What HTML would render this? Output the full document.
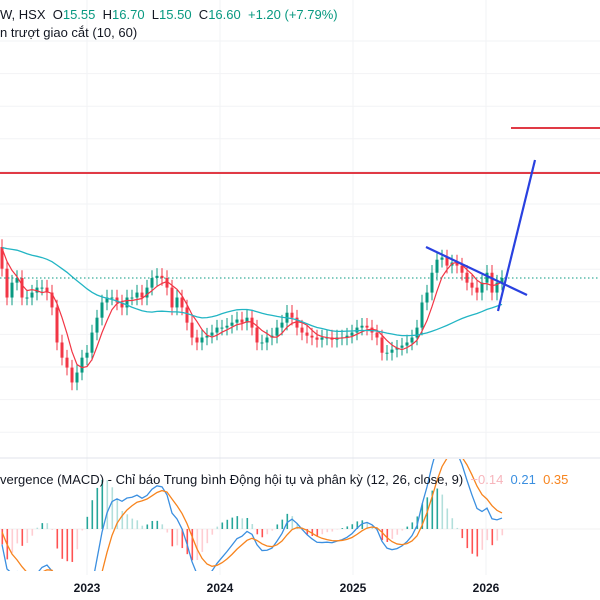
<!DOCTYPE html>
<html><head><meta charset="utf-8"><style>
html,body{margin:0;background:#fff;width:600px;height:600px;overflow:hidden;font-family:"Liberation Sans","Noto Sans CJK SC",sans-serif}
svg{position:absolute;left:0;top:0;display:block}
.t{position:absolute;white-space:nowrap;font-size:13px;line-height:16px;color:#131722}
</style></head><body>
<svg id="c" width="600" height="600"></svg>
<div class="t" style="left:0;top:7px">W, HSX&nbsp; O<span style="color:#089981">15.55</span>&nbsp; H<span style="color:#089981">16.70</span>&nbsp; L<span style="color:#089981">15.50</span>&nbsp; C<span style="color:#089981">16.60</span>&nbsp; <span style="color:#089981">+1.20 (+7.79%)</span></div>
<div class="t" style="left:0;top:25px">n trượt giao cắt (10, 60)</div>
<div class="t" style="left:0;top:472px">vergence (MACD) - Chỉ báo Trung bình Động hội tụ và phân kỳ (12, 26, close, 9)&nbsp; <span style="color:#f7b5bc">−0.14</span>&nbsp; <span style="color:#3b8fe0">0.21</span>&nbsp; <span style="color:#f7841e">0.35</span></div>
<script>
const historyCloses=[16.8,17.0,17.2,17.4,17.6,17.8,17.6,17.3,17.5,17.8,18.0,17.8,17.5,17.2,17.4,17.6,17.9,18.1,18.2,17.9,17.6,17.4,17.1,17.3,17.6,17.9,18.1,17.9,17.6,17.3];
const closes=[16.9,15.97,16.45,16.6,15.97,15.97,16.13,16.29,16.29,16.13,15.65,14.52,14.03,13.71,13.23,13.55,14.03,14.19,14.84,15.32,15.81,15.97,15.97,15.81,15.65,15.97,15.97,16.13,15.97,16.29,16.6,16.67,16.6,16.29,15.65,15.97,15.65,15.16,14.68,14.52,14.68,14.74,14.84,15.0,15.0,15.06,15.16,15.26,15.16,15.32,15.0,14.52,14.52,14.68,14.74,15.0,15.16,15.48,15.32,15.0,14.84,14.74,14.68,14.61,14.68,14.68,14.61,14.68,14.68,14.74,14.84,15.0,15.06,15.0,14.84,14.68,14.19,14.19,14.29,14.35,14.42,14.52,14.68,15.0,15.81,16.13,16.77,17.19,17.26,17.0,17.1,17.0,16.77,16.45,16.29,16.13,16.45,16.77,16.13,16.45,16.6];
const openFirst=17.6;
const xTicks=["2023","2024","2025","2026","2027"];
const xTickPos=[0.5,1.5,2.5,3.5,4.5];
const NS="http://www.w3.org/2000/svg",svg=document.getElementById('c');
function el(t,a,p){const e=document.createElementNS(NS,t);for(const k in a)e.setAttribute(k,a[k]);(p||svg).appendChild(e);return e;}
const X=i=>i*5, Y=p=>278-(p-16.6)*31;
const yearX=v=>87+(v-0.5)*133;
const H=historyCloses.length, all=historyCloses.concat(closes);
const gg=el('g',{});
for(let y=41;y<455;y+=32.6)el('line',{x1:0,x2:600,y1:y,y2:y,stroke:'#f2f3f5'},gg);
xTickPos.forEach(v=>el('line',{x1:yearX(v),x2:yearX(v),y1:0,y2:575,stroke:'#f2f3f5'},gg));
el('line',{x1:0,x2:600,y1:458,y2:458,stroke:'#e0e3eb'},gg);
const cg=el('g',{});
closes.forEach((c,i)=>{const o=i?closes[i-1]:openFirst;const up=c>=o;const col=up?'#089981':'#f23645';
 const hi=Math.max(o,c)+0.25,lo=Math.min(o,c)-0.25;
 const l=el('line',{x1:X(i)+2,x2:X(i)+2,y1:Y(hi),y2:Y(lo),stroke:col,'stroke-width':1},cg);
 
 const top=Y(Math.max(o,c)),h=Math.max(1,Y(Math.min(o,c))-top);
 const r=el('rect',{x:X(i)+0.5,y:top,width:3,height:h,fill:col},cg);
 });
function sma(n){return all.map((c,i)=>{const s=all.slice(Math.max(0,i-n+1),i+1);return s.reduce((a,b)=>a+b,0)/s.length;}).slice(H);}
function path(vals,f){return vals.map((v,i)=>(i?'L':'M')+(X(i)+2)+','+f(v)).join('');}
const m1=el('path',{d:path(sma(5),Y),fill:'none',stroke:'#f23645','stroke-width':1.2});
const m2=el('path',{d:path(sma(30),Y),fill:'none',stroke:'#22b5c4','stroke-width':1.3});
const dl=el('line',{x1:0,x2:600,y1:Y(16.6),y2:Y(16.6),stroke:'#089981','stroke-dasharray':'1.5,2.5','stroke-width':1});
const r1=el('line',{x1:0,x2:600,y1:173,y2:173,stroke:'#e03a45','stroke-width':2});
const r2=el('line',{x1:511,x2:600,y1:128,y2:128,stroke:'#e03a45','stroke-width':2});
const b1=el('line',{x1:426,x2:527,y1:247,y2:295,stroke:'#2941e0','stroke-width':2.2});
const b2=el('line',{x1:498,x2:535,y1:311,y2:160,stroke:'#2941e0','stroke-width':2.2});
function ema(a,n){const k=2/(n+1);let e=a[0];return a.map(v=>e=v*k+e*(1-k));}
const e1=ema(all,6),e2=ema(all,13);const macdAll=e1.map((v,i)=>v-e2[i]);const sigAll=ema(macdAll,5);
const macd=macdAll.slice(H),sig=sigAll.slice(H);const hist=macd.map((v,i)=>v-sig[i]);
const Z=529,MY=v=>Z-v*130,HY=v=>Z-v*160;
const clip=el('clipPath',{id:'mc'});el('rect',{x:0,y:459,width:600,height:112},clip);
const mg=el('g',{'clip-path':'url(#mc)'});
el('line',{x1:0,x2:600,y1:Z,y2:Z,stroke:'#f0f0f0'},mg);
hist.forEach((h,i)=>{const prev=i?hist[i-1]:0;const inc=Math.abs(h)>=Math.abs(prev);
 const col=h>=0?(inc?'#26a69a':'#b2dfdb'):(inc?'#ff5252':'#ffcdd2');
 const y=HY(h);const b=el('rect',{x:X(i)+1.5,y:Math.min(y,Z),width:1.6,height:Math.abs(y-Z),fill:col},mg);
 });
const ml=el('path',{d:path(macd,MY),fill:'none',stroke:'#3b8fe0','stroke-width':1.3},mg);
const sl=el('path',{d:path(sig,MY),fill:'none',stroke:'#f7841e','stroke-width':1.3},mg);
xTicks.forEach((t,i)=>{const tx=el('text',{x:yearX(xTickPos[i]),y:592,'text-anchor':'middle','font-size':12,'font-weight':'bold',fill:'#131722','font-family':'Liberation Sans, sans-serif'});tx.textContent=t;});
</script>
</body></html>
